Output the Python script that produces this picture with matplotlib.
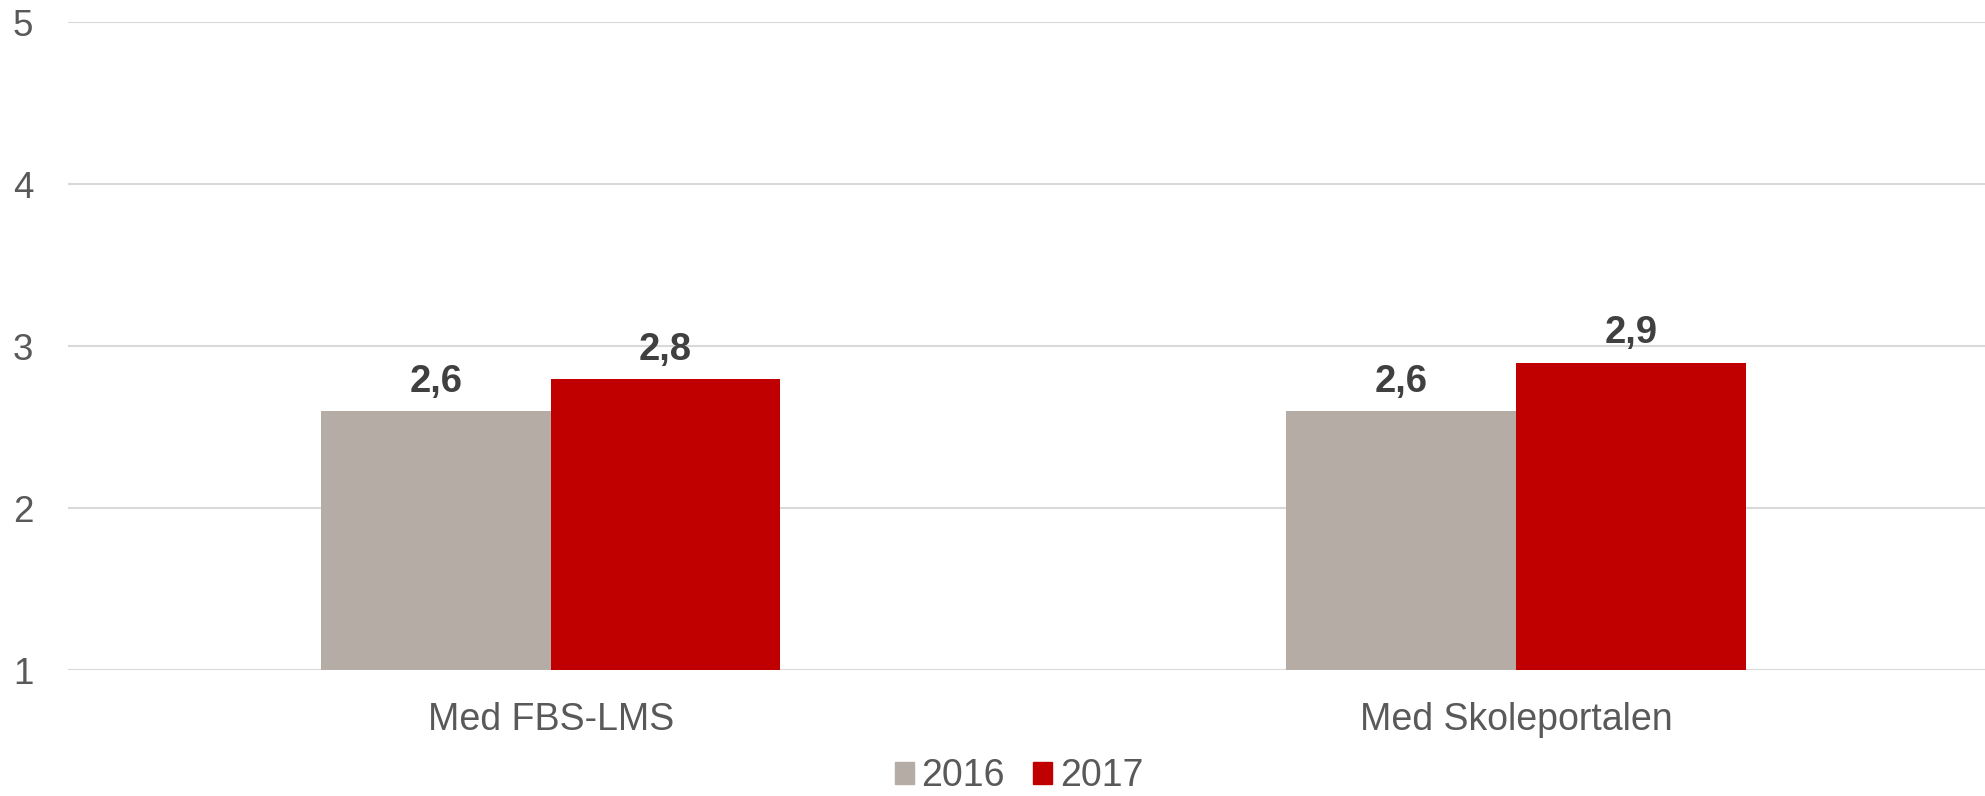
import matplotlib
matplotlib.use("Agg")
import matplotlib.pyplot as plt
from matplotlib.patches import Patch
import numpy as np

categories = ["Med FBS-LMS", "Med Skoleportalen"]
years = ["2016", "2017"]
values_2016 = [2.6, 2.6]
values_2017 = [2.8, 2.9]
yticks = [1, 2, 3, 4, 5]

GREY = "#b5ada5"
RED = "#c00000"
TEXT = "#595959"

plt.rcParams["font.family"] = ["Liberation Sans", "DejaVu Sans"]

fig = plt.figure(figsize=(19.85, 7.96), dpi=100)
ax = fig.add_axes([68 / 1985, 125.7 / 796, 1 - 68 / 1985, 0.814])

x = np.arange(len(categories))
w = 0.238
b1 = ax.bar(x - w / 2, np.array(values_2016) - 1, w, bottom=1, color=GREY, zorder=3)
b2 = ax.bar(x + w / 2, np.array(values_2017) - 1, w, bottom=1, color=RED, zorder=3)

# data labels with comma decimals
for bars, vals in [(b1, values_2016), (b2, values_2017)]:
    for r, v in zip(bars, vals):
        ax.annotate(f"{v:.1f}".replace(".", ","),
                    (r.get_x() + r.get_width() / 2, v),
                    xytext=(0, 8), textcoords="offset points",
                    ha="center", va="bottom", fontsize=27.5,
                    fontweight="bold", color="#404040")

ax.set_xlim(-0.5, 1.486)
ax.set_ylim(1, 5)
ax.set_yticks(yticks)
ax.set_xticks(x)
ax.set_xticklabels(categories)
ax.tick_params(axis="y", length=0, pad=25, labelsize=26.5, labelcolor=TEXT)
ax.tick_params(axis="x", length=0, pad=23, labelsize=27, labelcolor=TEXT)
ax.grid(axis="y", color="#d9d9d9", linewidth=1.5, zorder=0)
for s in ax.spines.values():
    s.set_visible(False)

handles = [Patch(color=GREY, label=years[0]), Patch(color=RED, label=years[1])]
fig.legend(handles=handles, loc="center", bbox_to_anchor=(0.5134, 20 / 796),
           ncol=2, frameon=False, fontsize=27, labelcolor=TEXT,
           handlelength=0.51, handleheight=0.51, handletextpad=0.2,
           columnspacing=0.75, borderpad=0, borderaxespad=0)

fig.savefig("out.png", dpi=100)
